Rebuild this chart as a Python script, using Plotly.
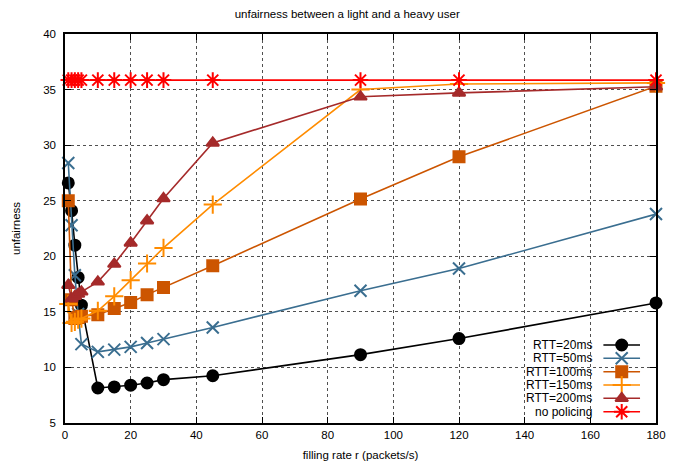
import plotly.graph_objects as go

# filling rate r (packets/s)
rate = [1, 2, 3, 4, 5, 10, 15, 20, 25, 30, 45, 90, 120, 180]

# unfairness per round-trip time of the light user
rtt20 = [26.6, 24.1, 21.0, 18.1, 15.6, 8.15, 8.25, 8.4, 8.6, 8.9, 9.25, 11.15, 12.6, 15.8]
rtt50 = [28.4, 22.8, 18.3, 14.8, 12.1, 11.4, 11.6, 11.85, 12.2, 12.55, 13.6, 16.9, 18.9, 23.8]
rtt100 = [25.0, 16.1, 14.4, 14.5, 14.6, 14.75, 15.3, 15.85, 16.55, 17.2, 19.15, 25.15, 28.95, 35.3]
rtt150 = [15.7, 14.0, 14.1, 14.3, 14.4, 15.1, 16.4, 17.85, 19.35, 20.75, 24.65, 35.0, 35.5, 35.6]
rtt200 = [17.4, 16.2, 16.4, 16.6, 16.8, 17.7, 19.3, 21.2, 23.2, 25.2, 30.2, 34.35, 34.7, 35.25]
no_policing = [35.85] * len(rate)

x_ticks = [0, 20, 40, 60, 80, 100, 120, 140, 160, 180]
y_ticks = [5, 10, 15, 20, 25, 30, 35, 40]

FONT = "Liberation Sans, Arial, sans-serif"

series = [
    ("RTT=20ms", rtt20, "#000000", "circle", 11),
    ("RTT=50ms", rtt50, "#3a6e90", "x-thin-open", 12),
    ("RTT=100ms", rtt100, "#cc5500", "square", 11),
    ("RTT=150ms", rtt150, "#ff8c00", "cross-thin-open", 13),
    ("RTT=200ms", rtt200, "#a52a2a", "triangle-up", 11),
    ("no policing", no_policing, "#ff0000", "asterisk-open", 13),
]

fig = go.Figure()

for name, vals, color, sym, size in series:
    fig.add_trace(go.Scatter(
        x=rate, y=vals, mode="lines+markers", name=name,
        line=dict(color=color, width=1.6),
        marker=dict(symbol=sym, size=size, color=color,
                    line=dict(color=color, width=2)),
        showlegend=False, cliponaxis=False,
    ))

# key in the lower right corner: label, then a short line with its marker
key_rows = [0.2005, 0.1663, 0.1319, 0.0977, 0.0635, 0.029]
key_text_x = 0.8956
key_line = (0.911, 0.973)
key_mark_x = 0.942

for (name, vals, color, sym, size), ky in zip(series, key_rows):
    fig.add_annotation(
        x=key_text_x, y=ky, xref="paper", yref="paper",
        text=name, showarrow=False, xanchor="right", yanchor="middle",
        font=dict(family=FONT, size=12, color="#000000"),
    )
    fig.add_trace(go.Scatter(
        x=list(key_line), y=[ky, ky], xaxis="x2", yaxis="y2",
        mode="lines", line=dict(color=color, width=1.6),
        showlegend=False, hoverinfo="skip",
    ))
    fig.add_trace(go.Scatter(
        x=[key_mark_x], y=[ky], xaxis="x2", yaxis="y2",
        mode="markers",
        marker=dict(symbol=sym, size=size, color=color,
                    line=dict(color=color, width=2)),
        showlegend=False, hoverinfo="skip", cliponaxis=False,
    ))

axis_common = dict(
    showline=True, linecolor="#000000", linewidth=1.5, mirror="ticks",
    ticks="inside", ticklen=6, tickwidth=1, tickcolor="#000000",
    showgrid=True, gridcolor="#505050", griddash="dot", gridwidth=1,
    zeroline=False, automargin=False,
    tickfont=dict(family=FONT, size=11.5, color="#000000"),
)

fig.update_layout(
    width=680, height=468,
    margin=dict(l=65, r=24, t=34, b=45),
    paper_bgcolor="#ffffff", plot_bgcolor="#ffffff",
    font=dict(family=FONT, size=11.5, color="#000000"),
    title=dict(text="unfairness between a light and a heavy user",
               xref="paper", x=0.4775, xanchor="center",
               y=1 - 14 / 468, yanchor="middle",
               font=dict(family=FONT, size=11.5, color="#000000")),
    xaxis=dict(range=[0, 180], tickvals=x_ticks,
               title=dict(text="filling rate r (packets/s)", standoff=11,
                          font=dict(family=FONT, size=11.5)),
               **axis_common),
    yaxis=dict(range=[5, 40], tickvals=y_ticks, ticklabelstandoff=5,
               title=dict(text="unfairness", standoff=20,
                          font=dict(family=FONT, size=11.5)),
               **axis_common),
    xaxis2=dict(range=[0, 1], overlaying="x", visible=False, fixedrange=True),
    yaxis2=dict(range=[0, 1], overlaying="y", visible=False, fixedrange=True),
    showlegend=False,
)

fig.write_html("out.html")
